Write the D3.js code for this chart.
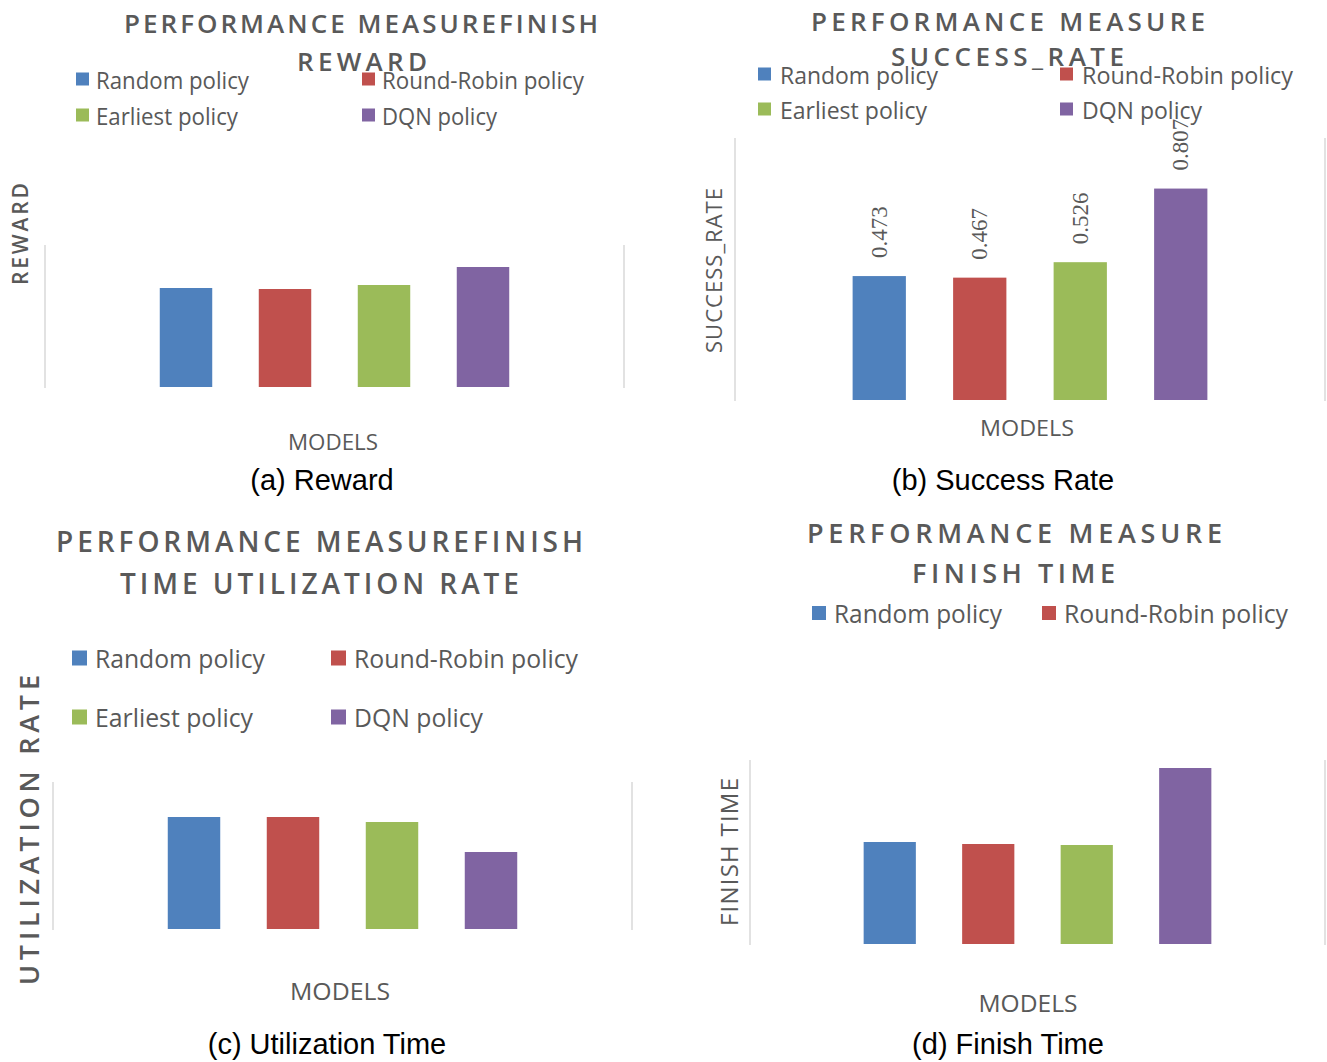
<!DOCTYPE html>
<html>
<head>
<meta charset="utf-8">
<script src="https://cdn.jsdelivr.net/npm/d3@7"></script>
<style>
  html, body { margin: 0; padding: 0; background: #ffffff; }
  svg { display: block; }
  .ttl { font-family: "Open Sans", sans-serif; font-weight: 600; fill: #595959; }
  .leg { font-family: "Open Sans", sans-serif; fill: #595959; }
  .axl { font-family: "Open Sans", sans-serif; fill: #595959; }
  .val { font-family: "Liberation Serif", "DejaVu Serif", serif; fill: #595959; }
  .cap { font-family: "Liberation Sans", Arial, sans-serif; fill: #000000; }
</style>
</head>
<body>
<script>
// Policies compared in every panel
const categories = ["Random policy", "Round-Robin policy", "Earliest policy", "DQN policy"];
const seriesColors = ["#4F81BD", "#C0504D", "#9BBB59", "#8064A2"];

// Measured values per panel
const rewardValues = [0.99, 0.98, 1.02, 1.20];
const successRateValues = [0.473, 0.467, 0.526, 0.807];
const utilizationValues = [1.12, 1.12, 1.07, 0.77];
const finishTimeValues = [1.02, 1.00, 0.99, 1.76];

// Texts
const rewardTitle = ["PERFORMANCE MEASUREFINISH", "REWARD"];
const successTitle = ["PERFORMANCE MEASURE", "SUCCESS_RATE"];
const utilizationTitle = ["PERFORMANCE MEASUREFINISH", "TIME UTILIZATION RATE"];
const finishTitle = ["PERFORMANCE MEASURE", "FINISH TIME"];
const xAxisTitle = "MODELS";

const W = 1327, H = 1062;
const svg = d3.select("body").append("svg").attr("width", W).attr("height", H);

const panels = [
  {
    values: rewardValues, yMax: 1.42, labels: false,
    plot: { left: 45, right: 624, top: 245, bottom: 387 }, step: 99,
    title: rewardTitle, titleY: [23, 61], titleX: [[124, 598], [297, 427]], titleSize: 26,
    legend: { rows: [79, 115], cols: [76, 362], sq: 13, textOff: 20, size: 24,
      widths: [153, 202, 142, 115] },
    yLabel: { text: "REWARD", x: 20, y0: 183, y1: 285, size: 21, weight: 600 },
    xLabel: { x: 333, y: 441, w: 90, size: 22 },
    caption: { text: "(a) Reward", x: 322, y: 480 }
  },
  {
    values: successRateValues, yMax: 1.0, labels: true,
    plot: { left: 735, right: 1325, top: 138, bottom: 400 }, step: 100.5,
    title: successTitle, titleY: [21, 56], titleX: [[811, 1205], [891, 1124]], titleSize: 26,
    legend: { rows: [74, 109], cols: [758, 1060], sq: 13, textOff: 22, size: 24,
      widths: [158, 211, 147, 120] },
    yLabel: { text: "SUCCESS_RATE", x: 713, y0: 188, y1: 353, size: 22, weight: 400 },
    xLabel: { x: 1027, y: 427, w: 94, size: 22 },
    caption: { text: "(b) Success Rate", x: 1003, y: 480 }
  },
  {
    values: utilizationValues, yMax: 1.47, labels: false,
    plot: { left: 53, right: 632, top: 782, bottom: 929 }, step: 99,
    title: utilizationTitle, titleY: [541, 583], titleX: [[56, 583], [120, 519]], titleSize: 28,
    legend: { rows: [658, 717], cols: [72, 331], sq: 15, textOff: 23, size: 26,
      widths: [170, 224, 158, 129] },
    yLabel: { text: "UTILIZATION RATE", x: 28, y0: 675, y1: 985, size: 27, weight: 600 },
    xLabel: { x: 340, y: 990, w: 100, size: 24 },
    caption: { text: "(c) Utilization Time", x: 327, y: 1044 }
  },
  {
    values: finishTimeValues, yMax: 1.84, labels: false,
    plot: { left: 750, right: 1325, top: 760, bottom: 944 }, step: 98.5,
    title: finishTitle, titleY: [532, 572], titleX: [[807, 1222], [912, 1115]], titleSize: 27,
    legend: { rows: [613], cols: [812, 1042], sq: 14, textOff: 22, size: 26,
      widths: [168, 224], count: 2 },
    yLabel: { text: "FINISH TIME", x: 728, y0: 778, y1: 926, size: 24, weight: 400 },
    xLabel: { x: 1028, y: 1002, w: 99, size: 24 },
    caption: { text: "(d) Finish Time", x: 1008, y: 1044 }
  }
];

panels.forEach(p => {
  const g = svg.append("g");
  const pl = p.plot;
  const cx = (pl.left + pl.right) / 2;

  // Category scale: four bands centred in the plot area
  const x = d3.scaleBand()
    .domain(categories)
    .range([cx - 2 * p.step, cx + 2 * p.step])
    .paddingInner(0.47)
    .paddingOuter(0.235);
  const y = d3.scaleLinear().domain([0, p.yMax]).range([pl.bottom, pl.top]);

  // Plot-area side borders
  [pl.left, pl.right].forEach(xx => {
    g.append("line")
      .attr("x1", xx).attr("x2", xx)
      .attr("y1", y(p.yMax)).attr("y2", y(0) + 1)
      .attr("stroke", "#d9d9d9").attr("stroke-width", 1.5);
  });

  // Bars
  g.selectAll("rect.bar")
    .data(categories.map((c, i) => ({ c, v: p.values[i], col: seriesColors[i] })))
    .join("rect")
    .attr("class", "bar")
    .attr("x", d => x(d.c))
    .attr("width", x.bandwidth())
    .attr("y", d => y(d.v))
    .attr("height", d => y(0) - y(d.v))
    .attr("fill", d => d.col);

  // Value labels, rotated
  if (p.labels) {
    g.selectAll("text.val")
      .data(categories.map((c, i) => ({ c, v: p.values[i] })))
      .join("text")
      .attr("class", "val")
      .attr("transform", d => `translate(${x(d.c) + x.bandwidth() / 2},${y(d.v) - 18}) rotate(-90)`)
      .attr("dominant-baseline", "central")
      .attr("text-anchor", "start")
      .attr("font-size", 23)
      .text(d => d3.format(".3f")(d.v));
  }

  // Title (two lines, letter-spaced)
  p.title.forEach((t, i) => {
    const [a, b] = p.titleX[i];
    g.append("text")
      .attr("class", "ttl")
      .attr("x", a).attr("y", p.titleY[i])
      .attr("dominant-baseline", "central")
      .attr("font-size", p.titleSize)
      .attr("textLength", b - a)
      .attr("lengthAdjust", "spacing")
      .text(t);
  });

  // Legend
  const L = p.legend;
  const n = L.count || categories.length;
  for (let i = 0; i < n; i++) {
    const row = Math.floor(i / 2), col = i % 2;
    const lx = L.cols[col], ly = L.rows[row];
    g.append("rect")
      .attr("x", lx).attr("y", ly - L.sq / 2)
      .attr("width", L.sq).attr("height", L.sq)
      .attr("fill", seriesColors[i]);
    g.append("text")
      .attr("class", "leg")
      .attr("x", lx + L.textOff).attr("y", ly)
      .attr("dominant-baseline", "central")
      .attr("font-size", L.size)
      .attr("textLength", L.widths[i])
      .attr("lengthAdjust", "spacingAndGlyphs")
      .text(categories[i]);
  }

  // Y axis title
  const yl = p.yLabel;
  g.append("text")
    .attr("class", "axl")
    .attr("transform", `translate(${yl.x},${(yl.y0 + yl.y1) / 2}) rotate(-90)`)
    .attr("text-anchor", "middle")
    .attr("dominant-baseline", "central")
    .attr("font-size", yl.size)
    .attr("font-weight", yl.weight)
    .attr("textLength", yl.y1 - yl.y0)
    .attr("lengthAdjust", "spacing")
    .text(yl.text);

  // X axis title
  const xl = p.xLabel;
  g.append("text")
    .attr("class", "axl")
    .attr("x", xl.x - xl.w / 2).attr("y", xl.y)
    .attr("dominant-baseline", "central")
    .attr("font-size", xl.size)
    .attr("textLength", xl.w)
    .attr("lengthAdjust", "spacingAndGlyphs")
    .text(xAxisTitle);

  // Caption
  g.append("text")
    .attr("class", "cap")
    .attr("x", p.caption.x).attr("y", p.caption.y)
    .attr("text-anchor", "middle")
    .attr("dominant-baseline", "central")
    .attr("font-size", 29)
    .text(p.caption.text);
});
</script>
</body>
</html>
